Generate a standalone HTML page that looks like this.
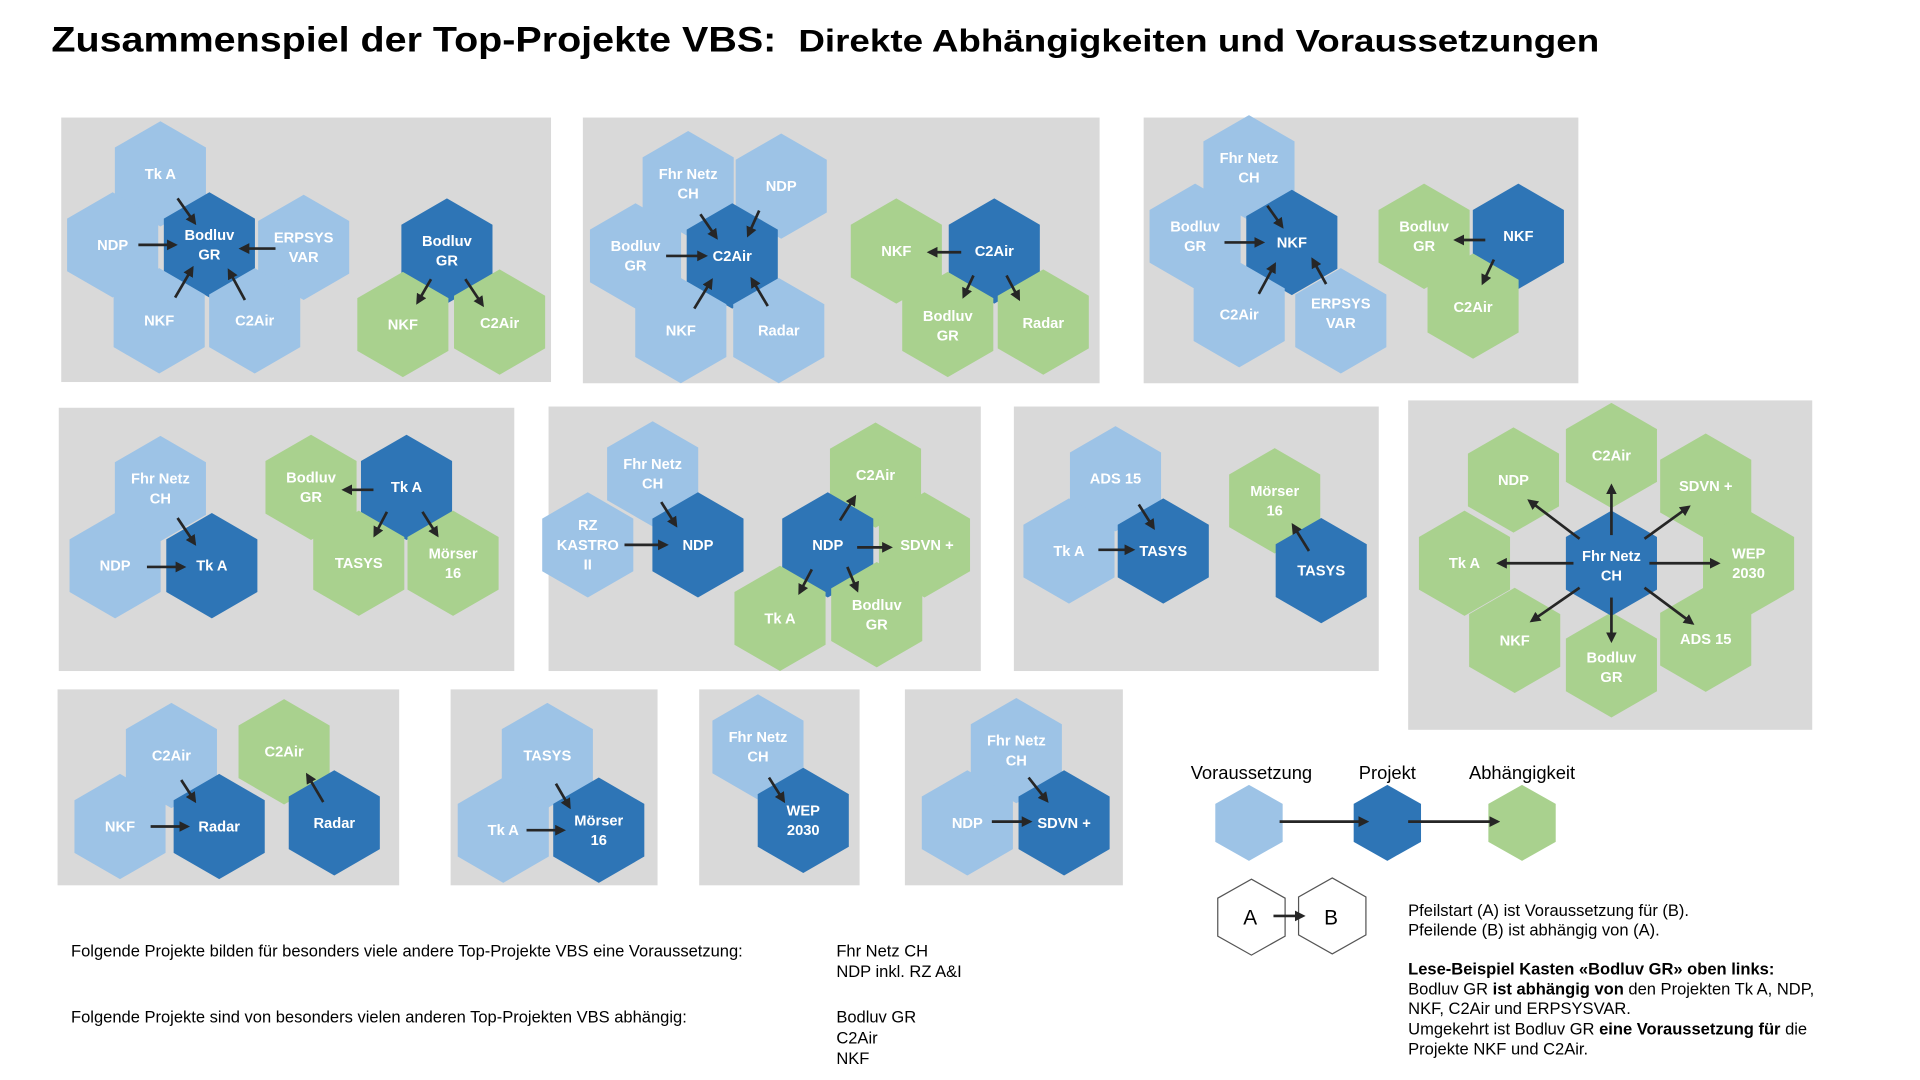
<!DOCTYPE html>
<html><head><meta charset="utf-8"><style>
html,body{margin:0;padding:0;background:#fff;}
svg{display:block;}
text{font-family:"Liberation Sans",sans-serif;}
.h{font-size:12px;fill:#fff;text-anchor:middle;font-weight:bold;}
.t{font-size:13.5px;fill:#000;}
</style></head><body>
<svg width="1920" height="1080" viewBox="0 0 1568 882" preserveAspectRatio="none" xmlns="http://www.w3.org/2000/svg">
<defs>
<path id="h" d="M0,-43 L37.2,-21.5 L37.2,21.5 L0,43 L-37.2,21.5 L-37.2,-21.5Z"/>
<path id="s" d="M0,-31 L27.5,-15.5 L27.5,15.5 L0,31 L-27.5,15.5 L-27.5,-15.5Z"/>
<marker id="a" markerWidth="4" markerHeight="4" refX="3" refY="2" orient="auto" markerUnits="strokeWidth"><path d="M0,0 L4,2 L0,4Z" fill="#262626"/></marker>
</defs>
<style>.L{fill:#9dc3e6}.D{fill:#2e75b6}.G{fill:#a9d18e}.ar{stroke:#262626;stroke-width:2.2;marker-end:url(#a)}</style>

<text x="42" y="42" font-size="29" font-weight="bold" textLength="592" lengthAdjust="spacingAndGlyphs">Zusammenspiel der Top-Projekte VBS:</text>
<text x="652" y="42" font-size="26" font-weight="bold" textLength="654" lengthAdjust="spacingAndGlyphs">Direkte Abhängigkeiten und Voraussetzungen</text>

<g fill="#d9d9d9">
<rect x="50" y="96" width="400" height="216"/>
<rect x="476" y="96" width="422" height="217"/>
<rect x="934" y="96" width="355" height="217"/>
<rect x="48" y="333" width="372" height="215"/>
<rect x="448" y="332" width="353" height="216"/>
<rect x="828" y="332" width="298" height="216"/>
<rect x="1150" y="327" width="330" height="269"/>
<rect x="47" y="563" width="279" height="160"/>
<rect x="368" y="563" width="169" height="160"/>
<rect x="571" y="563" width="131" height="160"/>
<rect x="739" y="563" width="178" height="160"/>
</g>

<!-- Panel 1 -->
<use href="#h" x="131" y="142" class="L"/><use href="#h" x="92" y="200" class="L"/><use href="#h" x="171" y="200" class="D"/>
<use href="#h" x="248" y="202" class="L"/><use href="#h" x="130" y="262" class="L"/><use href="#h" x="208" y="262" class="L"/>
<use href="#h" x="365" y="205" class="D"/><use href="#h" x="329" y="265" class="G"/><use href="#h" x="408" y="263" class="G"/>
<text class="h" x="131" y="146">Tk A</text><text class="h" x="92" y="204">NDP</text>
<text class="h" x="171" y="196">Bodluv</text><text class="h" x="171" y="212">GR</text>
<text class="h" x="248" y="198">ERPSYS</text><text class="h" x="248" y="214">VAR</text>
<text class="h" x="130" y="266">NKF</text><text class="h" x="208" y="266">C2Air</text>
<text class="h" x="365" y="201">Bodluv</text><text class="h" x="365" y="217">GR</text>
<text class="h" x="329" y="269">NKF</text><text class="h" x="408" y="268">C2Air</text>
<line class="ar" x1="145" y1="162" x2="159" y2="182"/><line class="ar" x1="113" y1="200" x2="143" y2="200"/>
<line class="ar" x1="225" y1="203" x2="197" y2="203"/><line class="ar" x1="143" y1="243" x2="157" y2="219"/>
<line class="ar" x1="200" y1="245" x2="187" y2="221"/>
<line class="ar" x1="352" y1="228" x2="341" y2="247"/><line class="ar" x1="380" y1="228" x2="394" y2="249"/>

<!-- Panel 2 -->
<use href="#h" x="562" y="150" class="L"/><use href="#h" x="638" y="152" class="L"/><use href="#h" x="519" y="209" class="L"/>
<use href="#h" x="598" y="209" class="D"/><use href="#h" x="556" y="270" class="L"/><use href="#h" x="636" y="270" class="L"/>
<use href="#h" x="732" y="205" class="G"/><use href="#h" x="812" y="205" class="D"/><use href="#h" x="774" y="265" class="G"/><use href="#h" x="852" y="263" class="G"/>
<text class="h" x="562" y="146">Fhr Netz</text><text class="h" x="562" y="162">CH</text>
<text class="h" x="638" y="156">NDP</text>
<text class="h" x="519" y="205">Bodluv</text><text class="h" x="519" y="221">GR</text>
<text class="h" x="598" y="213">C2Air</text><text class="h" x="556" y="274">NKF</text><text class="h" x="636" y="274">Radar</text>
<text class="h" x="732" y="209">NKF</text><text class="h" x="812" y="209">C2Air</text>
<text class="h" x="774" y="262">Bodluv</text><text class="h" x="774" y="278">GR</text><text class="h" x="852" y="268">Radar</text>
<line class="ar" x1="572" y1="175" x2="585" y2="194"/><line class="ar" x1="620" y1="172" x2="611" y2="192"/>
<line class="ar" x1="544" y1="209" x2="576" y2="209"/><line class="ar" x1="567" y1="252" x2="581" y2="229"/>
<line class="ar" x1="627" y1="250" x2="614" y2="228"/>
<line class="ar" x1="785" y1="206" x2="759" y2="206"/><line class="ar" x1="795" y1="225" x2="787" y2="242"/><line class="ar" x1="822" y1="225" x2="832" y2="244"/>

<!-- Panel 3 -->
<use href="#h" x="1020" y="137" class="L"/><use href="#h" x="976" y="193" class="L"/><use href="#h" x="1055" y="198" class="D"/>
<use href="#h" x="1012" y="257" class="L"/><use href="#h" x="1095" y="262" class="L"/>
<use href="#h" x="1163" y="193" class="G"/><use href="#h" x="1240" y="193" class="D"/><use href="#h" x="1203" y="250" class="G"/>
<text class="h" x="1020" y="133">Fhr Netz</text><text class="h" x="1020" y="149">CH</text>
<text class="h" x="976" y="189">Bodluv</text><text class="h" x="976" y="205">GR</text>
<text class="h" x="1055" y="202">NKF</text><text class="h" x="1012" y="261">C2Air</text>
<text class="h" x="1095" y="252">ERPSYS</text><text class="h" x="1095" y="268">VAR</text>
<text class="h" x="1163" y="189">Bodluv</text><text class="h" x="1163" y="205">GR</text>
<text class="h" x="1240" y="197">NKF</text><text class="h" x="1203" y="255">C2Air</text>
<line class="ar" x1="1035" y1="168" x2="1047" y2="185"/><line class="ar" x1="1000" y1="198" x2="1031" y2="198"/>
<line class="ar" x1="1028" y1="240" x2="1041" y2="216"/><line class="ar" x1="1083" y1="232" x2="1072" y2="212"/>
<line class="ar" x1="1213" y1="196" x2="1189" y2="196"/><line class="ar" x1="1220" y1="212" x2="1211" y2="231"/>

<!-- Panel 4 -->
<use href="#h" x="131" y="399" class="L"/><use href="#h" x="94" y="462" class="L"/><use href="#h" x="173" y="462" class="D"/>
<use href="#h" x="254" y="398" class="G"/><use href="#h" x="332" y="398" class="D"/><use href="#h" x="293" y="460" class="G"/><use href="#h" x="370" y="460" class="G"/>
<text class="h" x="131" y="395">Fhr Netz</text><text class="h" x="131" y="411">CH</text>
<text class="h" x="94" y="466">NDP</text><text class="h" x="173" y="466">Tk A</text>
<text class="h" x="254" y="394">Bodluv</text><text class="h" x="254" y="410">GR</text>
<text class="h" x="332" y="402">Tk A</text><text class="h" x="293" y="464">TASYS</text>
<text class="h" x="370" y="456">Mörser</text><text class="h" x="370" y="472">16</text>
<line class="ar" x1="145" y1="423" x2="159" y2="444"/><line class="ar" x1="120" y1="463" x2="150" y2="463"/>
<line class="ar" x1="305" y1="400" x2="281" y2="400"/><line class="ar" x1="316" y1="418" x2="306" y2="437"/><line class="ar" x1="345" y1="418" x2="357" y2="437"/>

<!-- Panel 5 -->
<use href="#h" x="533" y="387" class="L"/><use href="#h" x="480" y="445" class="L"/><use href="#h" x="570" y="445" class="D"/>
<use href="#h" x="715" y="388" class="G"/><use href="#h" x="676" y="445" class="D"/><use href="#h" x="755" y="445" class="G"/>
<use href="#h" x="637" y="505" class="G"/><use href="#h" x="716" y="502" class="G"/>
<text class="h" x="533" y="383">Fhr Netz</text><text class="h" x="533" y="399">CH</text>
<text class="h" x="480" y="433">RZ</text><text class="h" x="480" y="449">KASTRO</text><text class="h" x="480" y="465">II</text>
<text class="h" x="570" y="449">NDP</text><text class="h" x="715" y="392">C2Air</text><text class="h" x="676" y="449">NDP</text>
<text class="h" x="757" y="449">SDVN +</text><text class="h" x="637" y="509">Tk A</text>
<text class="h" x="716" y="498">Bodluv</text><text class="h" x="716" y="514">GR</text>
<line class="ar" x1="540" y1="410" x2="552" y2="429"/><line class="ar" x1="510" y1="445" x2="544" y2="445"/>
<line class="ar" x1="686" y1="425" x2="698" y2="406"/><line class="ar" x1="700" y1="447" x2="727" y2="447"/>
<line class="ar" x1="663" y1="465" x2="653" y2="484"/><line class="ar" x1="692" y1="463" x2="700" y2="482"/>

<!-- Panel 6 -->
<use href="#h" x="911" y="391" class="L"/><use href="#h" x="873" y="450" class="L"/><use href="#h" x="950" y="450" class="D"/>
<use href="#h" x="1041" y="409" class="G"/><use href="#h" x="1079" y="466" class="D"/>
<text class="h" x="911" y="395">ADS 15</text><text class="h" x="873" y="454">Tk A</text><text class="h" x="950" y="454">TASYS</text>
<text class="h" x="1041" y="405">Mörser</text><text class="h" x="1041" y="421">16</text><text class="h" x="1079" y="470">TASYS</text>
<line class="ar" x1="930" y1="412" x2="942" y2="431"/><line class="ar" x1="897" y1="449" x2="925" y2="449"/>
<line class="ar" x1="1069" y1="450" x2="1056" y2="429"/>

<!-- Panel 7 -->
<use href="#h" x="1236" y="392" class="G"/><use href="#h" x="1316" y="372" class="G"/><use href="#h" x="1393" y="397" class="G"/>
<use href="#h" x="1196" y="460" class="G"/><use href="#h" x="1428" y="460" class="G"/>
<use href="#h" x="1237" y="523" class="G"/><use href="#h" x="1316" y="543" class="G"/><use href="#h" x="1393" y="522" class="G"/>
<use href="#h" x="1316" y="460" class="D"/>
<text class="h" x="1236" y="396">NDP</text><text class="h" x="1316" y="376">C2Air</text><text class="h" x="1393" y="401">SDVN +</text>
<text class="h" x="1196" y="464">Tk A</text><text class="h" x="1428" y="456">WEP</text><text class="h" x="1428" y="472">2030</text>
<text class="h" x="1237" y="527">NKF</text><text class="h" x="1316" y="541">Bodluv</text><text class="h" x="1316" y="557">GR</text>
<text class="h" x="1393" y="526">ADS 15</text>
<text class="h" x="1316" y="458">Fhr Netz</text><text class="h" x="1316" y="474">CH</text>
<line class="ar" x1="1290" y1="440" x2="1249" y2="409"/><line class="ar" x1="1316" y1="437" x2="1316" y2="397"/>
<line class="ar" x1="1343" y1="440" x2="1379" y2="414"/><line class="ar" x1="1285" y1="460" x2="1224" y2="460"/>
<line class="ar" x1="1347" y1="460" x2="1403" y2="460"/><line class="ar" x1="1290" y1="480" x2="1251" y2="507"/>
<line class="ar" x1="1316" y1="488" x2="1316" y2="523"/><line class="ar" x1="1343" y1="480" x2="1382" y2="509"/>

<!-- Panel 8 -->
<use href="#h" x="140" y="617" class="L"/><use href="#h" x="232" y="614" class="G"/><use href="#h" x="98" y="675" class="L"/>
<use href="#h" x="179" y="675" class="D"/><use href="#h" x="273" y="672" class="D"/>
<text class="h" x="140" y="621">C2Air</text><text class="h" x="232" y="618">C2Air</text><text class="h" x="98" y="679">NKF</text>
<text class="h" x="179" y="679">Radar</text><text class="h" x="273" y="676">Radar</text>
<line class="ar" x1="148" y1="637" x2="159" y2="654"/><line class="ar" x1="123" y1="675" x2="153" y2="675"/>
<line class="ar" x1="264" y1="655" x2="251" y2="633"/>

<!-- Panel 9 -->
<use href="#h" x="447" y="617" class="L"/><use href="#h" x="411" y="678" class="L"/><use href="#h" x="489" y="678" class="D"/>
<text class="h" x="447" y="621">TASYS</text><text class="h" x="411" y="682">Tk A</text>
<text class="h" x="489" y="674">Mörser</text><text class="h" x="489" y="690">16</text>
<line class="ar" x1="454" y1="640" x2="465" y2="659"/><line class="ar" x1="430" y1="678" x2="460" y2="678"/>

<!-- Panel 10 -->
<use href="#h" x="619" y="610" class="L"/><use href="#h" x="656" y="670" class="D"/>
<text class="h" x="619" y="606">Fhr Netz</text><text class="h" x="619" y="622">CH</text>
<text class="h" x="656" y="666">WEP</text><text class="h" x="656" y="682">2030</text>
<line class="ar" x1="628" y1="635" x2="640" y2="654"/>

<!-- Panel 11 -->
<use href="#h" x="830" y="613" class="L"/><use href="#h" x="790" y="672" class="L"/><use href="#h" x="869" y="672" class="D"/>
<text class="h" x="830" y="609">Fhr Netz</text><text class="h" x="830" y="625">CH</text>
<text class="h" x="790" y="676">NDP</text><text class="h" x="869" y="676">SDVN +</text>
<line class="ar" x1="840" y1="635" x2="855" y2="654"/><line class="ar" x1="810" y1="671" x2="841" y2="671"/>

<!-- Legend -->
<text x="1022" y="636" font-size="15" text-anchor="middle">Voraussetzung</text>
<text x="1133" y="636" font-size="15" text-anchor="middle">Projekt</text>
<text x="1243" y="636" font-size="15" text-anchor="middle">Abhängigkeit</text>
<use href="#s" x="1020" y="672" class="L"/><use href="#s" x="1133" y="672" class="D"/><use href="#s" x="1243" y="672" class="G"/>
<line class="ar" x1="1045" y1="671" x2="1116" y2="671"/><line class="ar" x1="1150" y1="671" x2="1223" y2="671"/>
<use href="#s" x="1022" y="749" fill="#fff" stroke="#555" stroke-width="1"/>
<use href="#s" x="1088" y="748" fill="#fff" stroke="#555" stroke-width="1"/>
<text x="1021" y="755" font-size="17" text-anchor="middle">A</text>
<text x="1087" y="755" font-size="17" text-anchor="middle">B</text>
<line class="ar" x1="1040" y1="748" x2="1064" y2="748" stroke-width="2"/>

<text class="t" x="1150" y="748">Pfeilstart (A) ist Voraussetzung für (B).</text>
<text class="t" x="1150" y="764">Pfeilende (B) ist abhängig von (A).</text>
<text class="t" x="1150" y="796" font-weight="bold">Lese-Beispiel Kasten «Bodluv GR» oben links:</text>
<text class="t" x="1150" y="812">Bodluv GR <tspan font-weight="bold">ist abhängig von</tspan> den Projekten Tk A, NDP,</text>
<text class="t" x="1150" y="828">NKF, C2Air und ERPSYSVAR.</text>
<text class="t" x="1150" y="845">Umgekehrt ist Bodluv GR <tspan font-weight="bold">eine Voraussetzung für</tspan> die</text>
<text class="t" x="1150" y="861">Projekte NKF und C2Air.</text>

<text class="t" x="58" y="781">Folgende Projekte bilden für besonders viele andere Top-Projekte VBS eine Voraussetzung:</text>
<text class="t" x="683" y="781">Fhr Netz CH</text>
<text class="t" x="683" y="798">NDP inkl. RZ A&amp;I</text>
<text class="t" x="58" y="835">Folgende Projekte sind von besonders vielen anderen Top-Projekten VBS abhängig:</text>
<text class="t" x="683" y="835">Bodluv GR</text>
<text class="t" x="683" y="852">C2Air</text>
<text class="t" x="683" y="869">NKF</text>
</svg>
</body></html>
